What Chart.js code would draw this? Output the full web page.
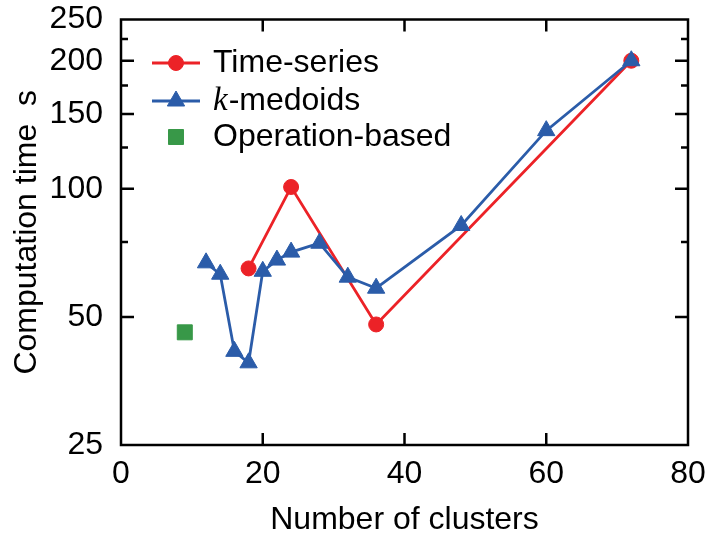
<!DOCTYPE html>
<html>
<head>
<meta charset="utf-8">
<script src="https://cdn.jsdelivr.net/npm/chart.js@4/dist/chart.umd.min.js"></script>
<style>
  html, body { margin: 0; padding: 0; background: #ffffff; }
  #c { display: block; }
</style>
</head>
<body>
<canvas id="c" width="710" height="543"></canvas>
<script>
// ---- data ----
const seriesNames = ['Time-series', 'k-medoids', 'Operation-based'];
const tsClusters = [18, 24, 36, 72];
const tsTimes = [65, 101, 48, 200];
const kmClusters = [12, 14, 16, 18, 20, 22, 24, 28, 32, 36, 48, 60, 72];
const kmTimes = [67, 63, 41.5, 39, 64, 68, 71, 74.5, 62, 58.4, 82, 137, 200];
const opClusters = [9];
const opTimes = [46];
const yTickValues = [25, 50, 100, 150, 200, 250];
const yMinorValues = [75, 125, 175, 225];
const xTickValues = [0, 20, 40, 60, 80];
const xTitle = 'Number of clusters';
const yTitle = 'Computation time  s';

const RED = '#ec2227';
const BLUE = '#2b5ca9';
const GREEN = '#389848';
const FONT = '"Liberation Sans", Arial, Helvetica, sans-serif';
const FS = 32;
const LW = 2.8;

const toXY = (xs, ys) => xs.map((x, i) => ({ x: x, y: ys[i] }));

function drawMarker(ctx, style, x, y, r, color) {
  ctx.save();
  ctx.fillStyle = color;
  ctx.strokeStyle = color;
  ctx.lineWidth = 1;
  ctx.beginPath();
  if (style === 'circle') {
    ctx.arc(x, y, r, 0, Math.PI * 2);
  } else if (style === 'triangle') {
    let rad = 0;
    ctx.moveTo(x + Math.sin(rad) * r, y - Math.cos(rad) * r);
    rad += 2 * Math.PI / 3;
    ctx.lineTo(x + Math.sin(rad) * r, y - Math.cos(rad) * r);
    rad += 2 * Math.PI / 3;
    ctx.lineTo(x + Math.sin(rad) * r, y - Math.cos(rad) * r);
    ctx.closePath();
  } else {
    const s = Math.SQRT1_2 * r;
    ctx.rect(x - s, y - s, 2 * s, 2 * s);
  }
  ctx.fill();
  ctx.stroke();
  ctx.restore();
}

const framePlugin = {
  id: 'frame',
  afterDatasetsDraw(chart) {
    const { ctx, chartArea: a, scales } = chart;
    const xs = scales.x, ys = scales.y;
    ctx.save();
    ctx.strokeStyle = '#000';
    ctx.lineWidth = 2.5;
    ctx.lineCap = 'butt';
    ctx.beginPath();
    yTickValues.forEach(v => {
      if (v === yTickValues[0] || v === yTickValues[yTickValues.length - 1]) return;
      const p = ys.getPixelForValue(v);
      ctx.moveTo(a.left, p); ctx.lineTo(a.left + 13, p);
      ctx.moveTo(a.right, p); ctx.lineTo(a.right - 13, p);
    });
    yMinorValues.forEach(v => {
      const p = ys.getPixelForValue(v);
      ctx.moveTo(a.left, p); ctx.lineTo(a.left + 7, p);
      ctx.moveTo(a.right, p); ctx.lineTo(a.right - 7, p);
    });
    xTickValues.forEach(v => {
      if (v === xTickValues[0] || v === xTickValues[xTickValues.length - 1]) return;
      const p = xs.getPixelForValue(v);
      ctx.moveTo(p, a.bottom); ctx.lineTo(p, a.bottom - 12);
      ctx.moveTo(p, a.top); ctx.lineTo(p, a.top + 12);
    });
    ctx.stroke();
    ctx.strokeRect(a.left, a.top, a.right - a.left, a.bottom - a.top);
    ctx.restore();

    // legend
    const rows = [
      { ds: 0, y: 63 },
      { ds: 1, y: 101 },
      { ds: 2, y: 137 }
    ];
    const lx0 = 152, lx1 = 200, mx = 176, tx = 213;
    rows.forEach(r => {
      const d = chart.data.datasets[r.ds];
      if (d.showLine !== false) {
        ctx.save();
        ctx.strokeStyle = d.borderColor;
        ctx.lineWidth = d.borderWidth;
        ctx.beginPath();
        ctx.moveTo(lx0, r.y); ctx.lineTo(lx1, r.y);
        ctx.stroke();
        ctx.restore();
      }
      drawMarker(ctx, d.pointStyle, mx, r.y, d.pointRadius, d.pointBackgroundColor);
      ctx.save();
      ctx.fillStyle = '#000';
      ctx.textBaseline = 'middle';
      ctx.textAlign = 'left';
      if (r.ds === 1) {
        ctx.font = 'italic 33px "Liberation Serif", "DejaVu Serif", serif';
        ctx.fillText('k', tx, r.y);
        const w = ctx.measureText('k').width;
        ctx.font = FS + 'px ' + FONT;
        ctx.fillText(seriesNames[1].slice(1), tx + w + 1, r.y);
      } else {
        ctx.font = FS + 'px ' + FONT;
        ctx.fillText(seriesNames[r.ds], tx, r.y);
      }
      ctx.restore();
    });
  }
};

const noPad = s => { s.paddingTop = 0; s.paddingBottom = 0; s.paddingLeft = 0; s.paddingRight = 0; };

new Chart(document.getElementById('c'), {
  type: 'scatter',
  data: {
    datasets: [
      {
        label: seriesNames[0],
        data: toXY(tsClusters, tsTimes),
        showLine: true,
        borderColor: RED,
        backgroundColor: RED,
        borderWidth: LW,
        pointStyle: 'circle',
        pointRadius: 7.5,
        pointBorderWidth: 1,
        pointBackgroundColor: RED,
        pointBorderColor: RED,
        order: 3
      },
      {
        label: seriesNames[1],
        data: toXY(kmClusters, kmTimes),
        showLine: true,
        borderColor: BLUE,
        backgroundColor: BLUE,
        borderWidth: LW,
        pointStyle: 'triangle',
        pointRadius: 10,
        pointBorderWidth: 1,
        pointBackgroundColor: BLUE,
        pointBorderColor: BLUE,
        order: 2
      },
      {
        label: seriesNames[2],
        data: toXY(opClusters, opTimes),
        showLine: false,
        borderColor: GREEN,
        backgroundColor: GREEN,
        borderWidth: 0,
        pointStyle: 'rect',
        pointRadius: 10.6,
        pointBorderWidth: 1,
        pointBackgroundColor: GREEN,
        pointBorderColor: GREEN,
        order: 1
      }
    ]
  },
  options: {
    responsive: false,
    animation: false,
    clip: false,
    layout: { padding: { top: 19.5, right: 22, left: 0, bottom: 0 } },
    plugins: {
      legend: { display: false },
      tooltip: { enabled: false }
    },
    elements: { line: { tension: 0 } },
    scales: {
      x: {
        type: 'linear',
        min: 0, max: 80,
        afterBuildTicks: s => { s.ticks = xTickValues.map(v => ({ value: v })); },
        afterFit: s => { s.height = 98; noPad(s); },
        grid: { display: false },
        border: { display: false },
        ticks: {
          color: '#000',
          font: { family: FONT, size: FS },
          padding: 2,
          maxRotation: 0,
          autoSkip: false,
          callback: v => String(v)
        },
        title: {
          display: true,
          text: xTitle,
          color: '#000',
          font: { family: FONT, size: FS },
          padding: { top: 0, bottom: 4 }
        }
      },
      y: {
        type: 'logarithmic',
        min: 25, max: 250,
        afterBuildTicks: s => { s.ticks = yTickValues.map(v => ({ value: v })); },
        afterFit: s => { s.width = 121; noPad(s); },
        grid: { display: false },
        border: { display: false },
        ticks: {
          color: '#000',
          font: { family: FONT, size: FS },
          padding: 10,
          autoSkip: false,
          callback: v => String(v)
        },
        title: {
          display: true,
          text: yTitle,
          color: '#000',
          font: { family: FONT, size: FS },
          padding: { top: 8, bottom: 0 }
        }
      }
    }
  },
  plugins: [framePlugin]
});
</script>
</body>
</html>
